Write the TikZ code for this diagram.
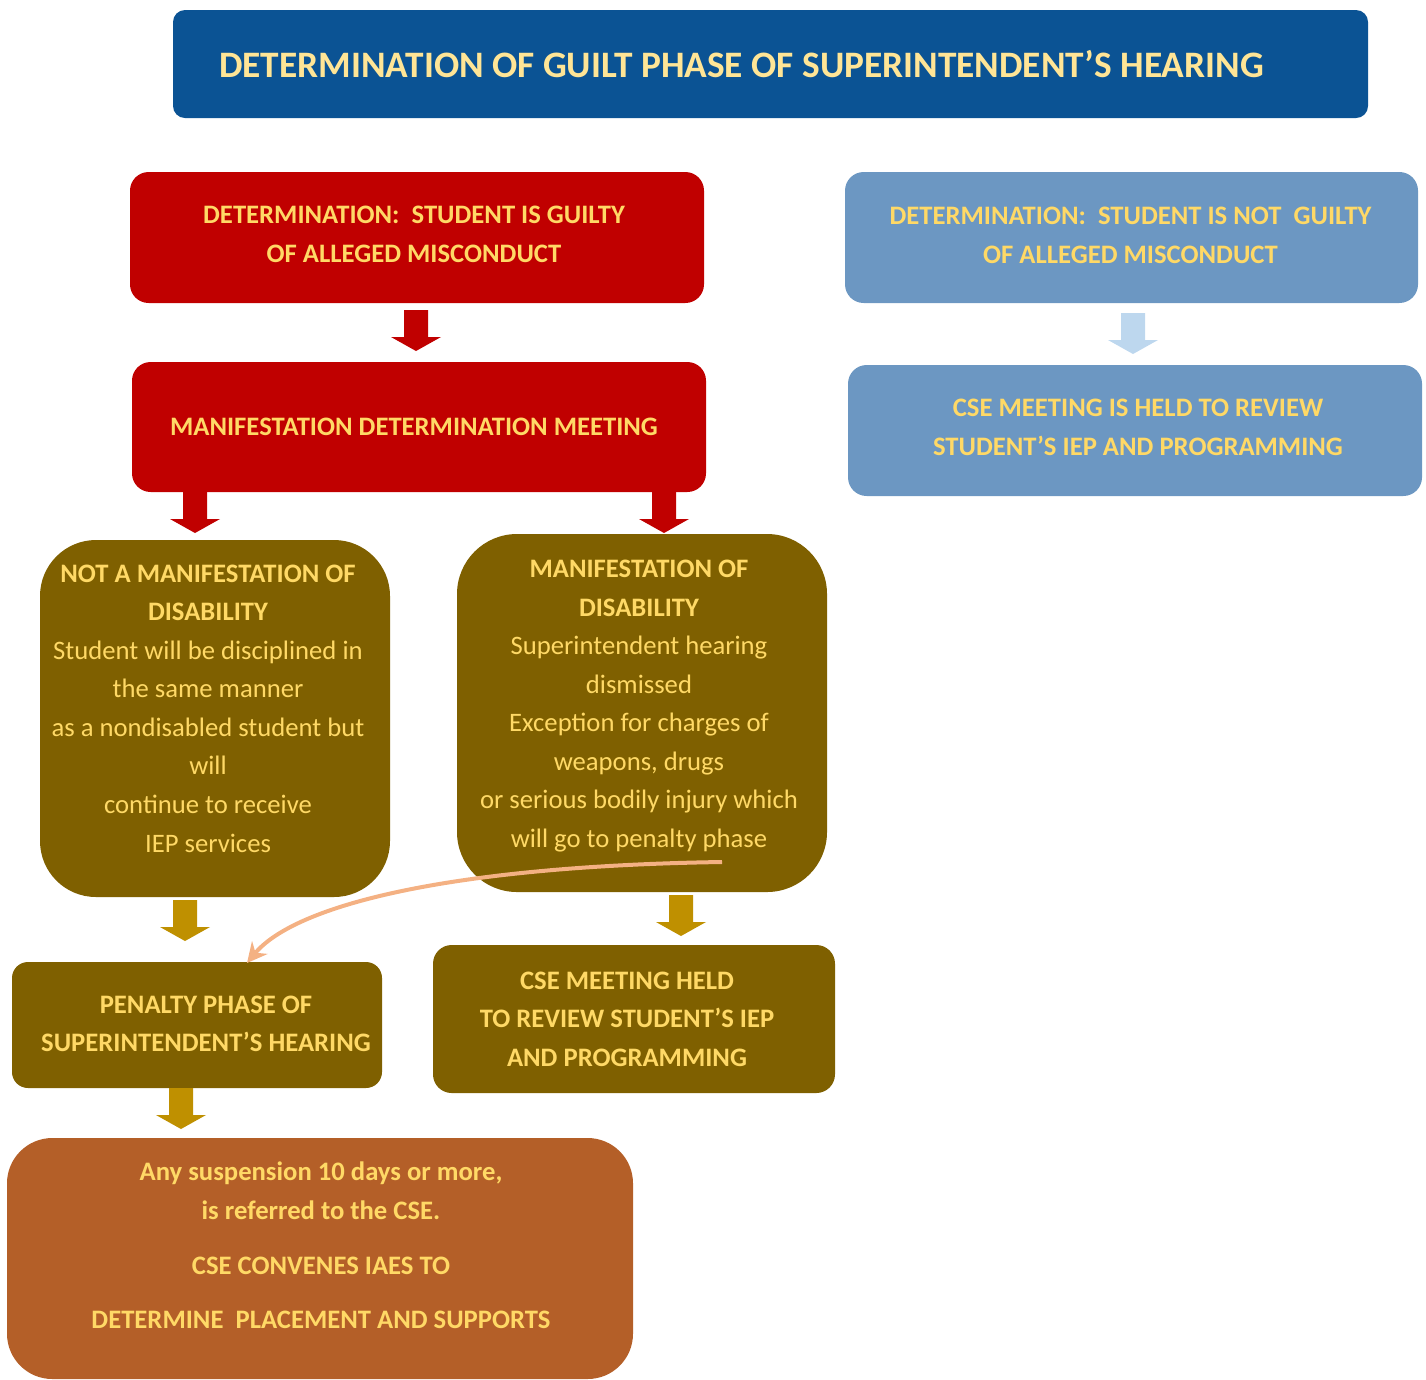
\documentclass[tikz,border=0pt]{standalone}
\usepackage{fontspec}
\setmainfont{Carlito}
\usetikzlibrary{arrows.meta,fit}

\definecolor{titleblue}{RGB}{11,83,148}
\definecolor{titlegold}{RGB}{255,229,150}
\definecolor{txtgold}{RGB}{255,217,102}
\definecolor{guiltred}{RGB}{192,0,0}
\definecolor{paleblue}{RGB}{108,151,194}
\definecolor{arrowblue}{RGB}{189,215,238}
\definecolor{olive}{RGB}{127,96,0}
\definecolor{arrowgold}{RGB}{191,144,0}
\definecolor{rust}{RGB}{180,95,40}
\definecolor{peach}{RGB}{244,177,131}

\tikzset{
  panel/.style={inner sep=0pt, draw=none},
  label text/.style={inner sep=0pt, text=txtgold, align=center,
    font=\fontsize{20}{28.9}\selectfont\bfseries},
  blkarrow/.pic={
    \path[pic actions] (-12,0) -- (12,0) -- (12,27) -- (25,27) -- (0,41)
      -- (-25,27) -- (-12,27) -- cycle;
  },
  curvearrow/.style={draw=peach, line width=3pt,
    -{Stealth[length=15pt,width=15pt,inset=5pt]}},
}

\begin{document}
\begin{tikzpicture}[x=0.75pt,y=-0.75pt]
\useasboundingbox (0,0) rectangle (1426,1379);

% panels
\node[panel, fill=titleblue, rounded corners=9pt, fit={(173,10) (1368,118)}] (title) {};
\node[panel, fill=guiltred, rounded corners=14pt, fit={(130,172) (704,303)}] (guilty) {};
\node[panel, fill=paleblue, rounded corners=14pt, fit={(845,172) (1418,303)}] (notguilty) {};
\node[panel, fill=guiltred, rounded corners=14pt, fit={(132,362) (706,492)}] (mdm) {};
\node[panel, fill=paleblue, rounded corners=14pt, fit={(848,365) (1422,496)}] (cseblue) {};
\node[panel, fill=olive, rounded corners=42pt, fit={(40,540) (390,897)}] (notmanif) {};
\node[panel, fill=olive, rounded corners=45pt, fit={(457,534) (827,892)}] (manif) {};
\node[panel, fill=olive, rounded corners=12pt, fit={(12,962) (382,1088)}] (penalty) {};
\node[panel, fill=olive, rounded corners=14pt, fit={(433,945) (835,1093)}] (csereview) {};
\node[panel, fill=rust, rounded corners=34pt, fit={(7,1138) (633,1379)}] (iaes) {};

% panel texts
\node[label text, text=titlegold, font=\fontsize{28}{30}\selectfont\bfseries]
  (title-t) at ([shift={(-29,0)}]title.center)
  {DETERMINATION OF GUILT PHASE OF SUPERINTENDENT’S HEARING};
\node[label text] (guilty-t) at ([shift={(-3,-3)}]guilty.center)
  {DETERMINATION:\ \ STUDENT IS GUILTY\\OF ALLEGED MISCONDUCT};
\node[label text] (notguilty-t) at ([shift={(-1,-2)}]notguilty.center)
  {DETERMINATION:\ \ STUDENT IS NOT\ \ GUILTY\\OF ALLEGED MISCONDUCT};
\node[label text] (mdm-t) at ([shift={(-5,0)}]mdm.center)
  {MANIFESTATION DETERMINATION MEETING};
\node[label text] (cseblue-t) at ([shift={(3,-3)}]cseblue.center)
  {CSE MEETING IS HELD TO REVIEW\\STUDENT’S IEP AND PROGRAMMING};
\node[label text] (notmanif-t) at ([shift={(-7,-10)}]notmanif.center)
  {NOT A MANIFESTATION OF\\DISABILITY\\
   {\mdseries Student will be disciplined in}\\
   {\mdseries the same manner}\\
   {\mdseries as a nondisabled student but}\\
   {\mdseries will}\\
   {\mdseries continue to receive}\\
   {\mdseries IEP services}};
\node[label text] (manif-t) at ([shift={(-3,-7)}]manif.center)
  {MANIFESTATION OF\\DISABILITY\\
   {\mdseries Superintendent hearing}\\
   {\mdseries dismissed}\\
   {\mdseries Exception for charges of}\\
   {\mdseries weapons, drugs}\\
   {\mdseries or serious bodily injury which}\\
   {\mdseries will go to penalty phase}};
\node[label text] (penalty-t) at ([shift={(9,-1)}]penalty.center)
  {PENALTY PHASE OF\\SUPERINTENDENT’S HEARING};
\node[label text] (csereview-t) at ([shift={(-7,0)}]csereview.center)
  {CSE MEETING HELD\\TO REVIEW STUDENT’S IEP\\AND PROGRAMMING};
\node[label text] (iaes-t) at ([shift={(1,-13)}]iaes.center)
  {Any suspension 10 days or more,\\is referred to the CSE.\\[12pt]
   CSE CONVENES IAES TO\\[12pt]DETERMINE\ \ PLACEMENT AND SUPPORTS};

% block arrows between stages
\pic[fill=guiltred] at (416,310) {blkarrow};
\pic[fill=guiltred] at (195,492) {blkarrow};
\pic[fill=guiltred] at (664,492) {blkarrow};
\pic[fill=arrowblue] at (1133,313) {blkarrow};
\pic[fill=arrowgold] at (185,900) {blkarrow};
\pic[fill=arrowgold] at (681,895) {blkarrow};
\pic[fill=arrowgold] at (181,1088) {blkarrow};

% exception path to the penalty phase
\coordinate (exc) at (722,862);
\coordinate (pen) at (247,963);
\draw[curvearrow] (exc) .. controls (450,866) and (295,905) .. (pen);
\end{tikzpicture}
\end{document}
